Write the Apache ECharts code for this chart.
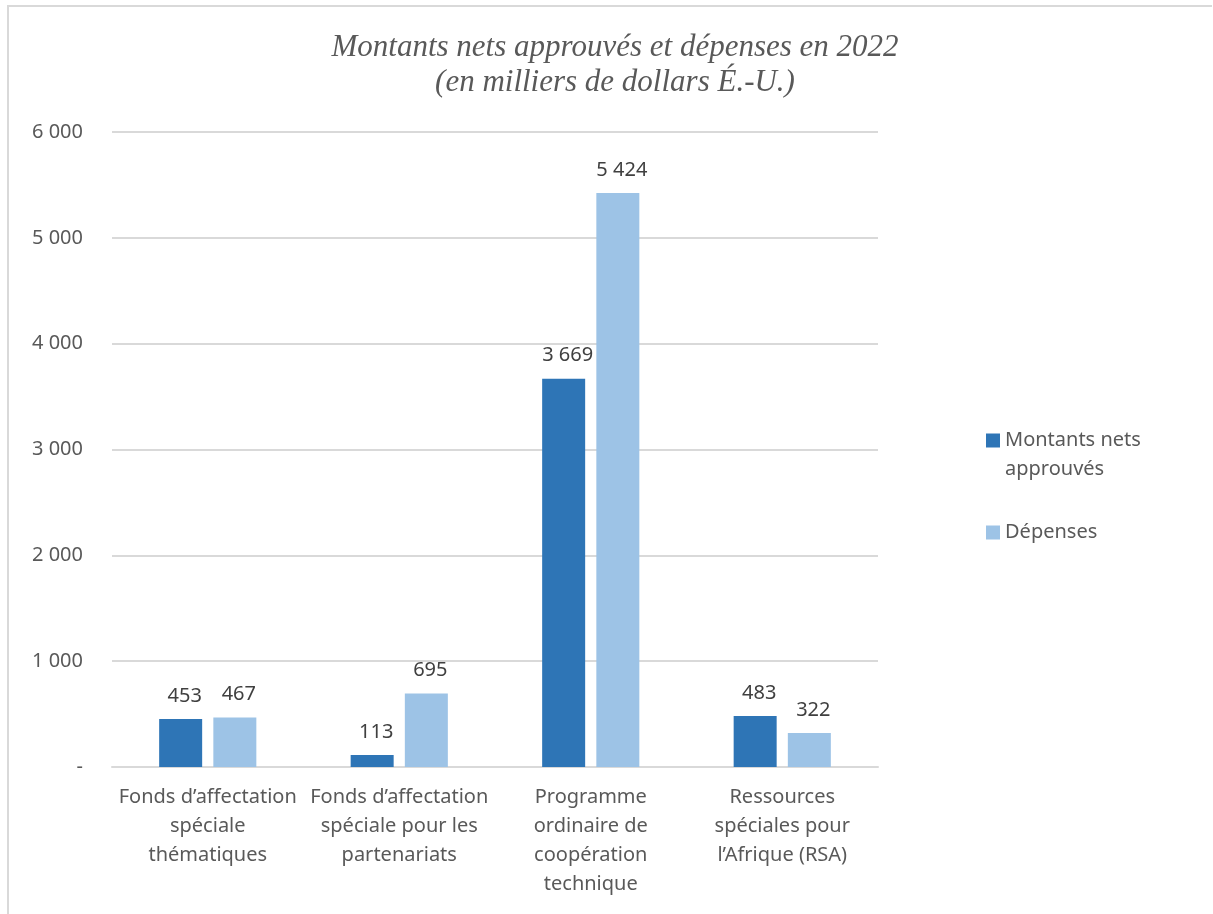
<!DOCTYPE html>
<html>
<head>
<meta charset="utf-8">
<script src="https://cdn.jsdelivr.net/npm/echarts@6/dist/echarts.min.js"></script>
<style>
html,body{margin:0;padding:0;background:#fff;}
#frame{position:absolute;left:7px;top:5px;width:1205px;height:909px;border-left:2px solid #d9d9d9;border-top:2px solid #d9d9d9;box-sizing:border-box;}
#chart{position:absolute;left:0;top:0;width:1213px;height:914px;}
</style>
</head>
<body>
<div id="frame"></div>
<div id="chart"></div>
<script>
const titleText = 'Montants nets approuvés et dépenses en 2022\n(en milliers de dollars É.-U.)';
const categories = [
  'Fonds d’affectation\nspéciale\nthématiques',
  'Fonds d’affectation\nspéciale pour les\npartenariats',
  'Programme\nordinaire de\ncoopération\ntechnique',
  'Ressources\nspéciales pour\nl’Afrique (RSA)'
];
const seriesNames = ['Montants nets approuvés', 'Dépenses'];
const approuves = [453, 113, 3669, 483];
const depenses = [467, 695, 5424, 322];
const yTicks = [0, 1000, 2000, 3000, 4000, 5000, 6000];

const fmt = v => v === 0 ? '-' : String(Math.round(v)).replace(/\B(?=(\d{3})+(?!\d))/g, ' ');

const chart = echarts.init(document.getElementById('chart'), null, {renderer: 'canvas'});
const labelStyle = {
  show: true, position: 'top', distance: 13, offset: [4, 0],
  color: '#404040', fontFamily: 'Noto Sans', fontSize: 20,
  formatter: p => fmt(p.value)
};
chart.setOption({
  animation: false,
  backgroundColor: 'transparent',
  title: {
    text: titleText, left: 610, top: 25, textAlign: 'center',
    textStyle: {fontFamily: 'Liberation Serif', fontStyle: 'italic', fontWeight: 'normal', fontSize: 31, lineHeight: 35, color: '#595959'}
  },
  legend: [{
    data: [seriesNames[0]], orient: 'vertical', left: 981, top: 392,
    itemWidth: 14, itemHeight: 14, icon: 'rect', itemGap: 6,
    formatter: n => '\nMontants nets\napprouvés',
    textStyle: {fontFamily: 'Noto Sans', fontSize: 20, color: '#595959', lineHeight: 29}
  }, {
    data: [seriesNames[1]], orient: 'vertical', left: 981, top: 513,
    itemWidth: 14, itemHeight: 14, icon: 'rect',
    textStyle: {fontFamily: 'Noto Sans', fontSize: 20, color: '#595959', lineHeight: 29}
  }],
  grid: {left: 112, right: 335, top: 132, bottom: 147, containLabel: false},
  xAxis: {
    type: 'category', data: categories,
    axisLine: {lineStyle: {color: '#d9d9d9', width: 2}},
    axisTick: {show: false},
    axisLabel: {interval: 0, margin: 16, fontFamily: 'Noto Sans', fontSize: 20, lineHeight: 29, color: '#595959', align: 'center'}
  },
  yAxis: {
    type: 'value', min: yTicks[0], max: yTicks[yTicks.length - 1], interval: 1000,
    axisLine: {show: false}, axisTick: {show: false},
    splitLine: {lineStyle: {color: '#d9d9d9', width: 2}},
    axisLabel: {margin: 29, fontFamily: 'Noto Sans', fontSize: 20, color: '#595959', formatter: fmt}
  },
  series: [{
    name: seriesNames[0], type: 'bar', data: approuves, barWidth: 43, barGap: '26%',
    itemStyle: {color: '#2E75B6'}, label: labelStyle
  }, {
    name: seriesNames[1], type: 'bar', data: depenses, barWidth: 43, barGap: '26%',
    itemStyle: {color: '#9DC3E6'}, label: labelStyle
  }]
});
</script>
</body>
</html>
